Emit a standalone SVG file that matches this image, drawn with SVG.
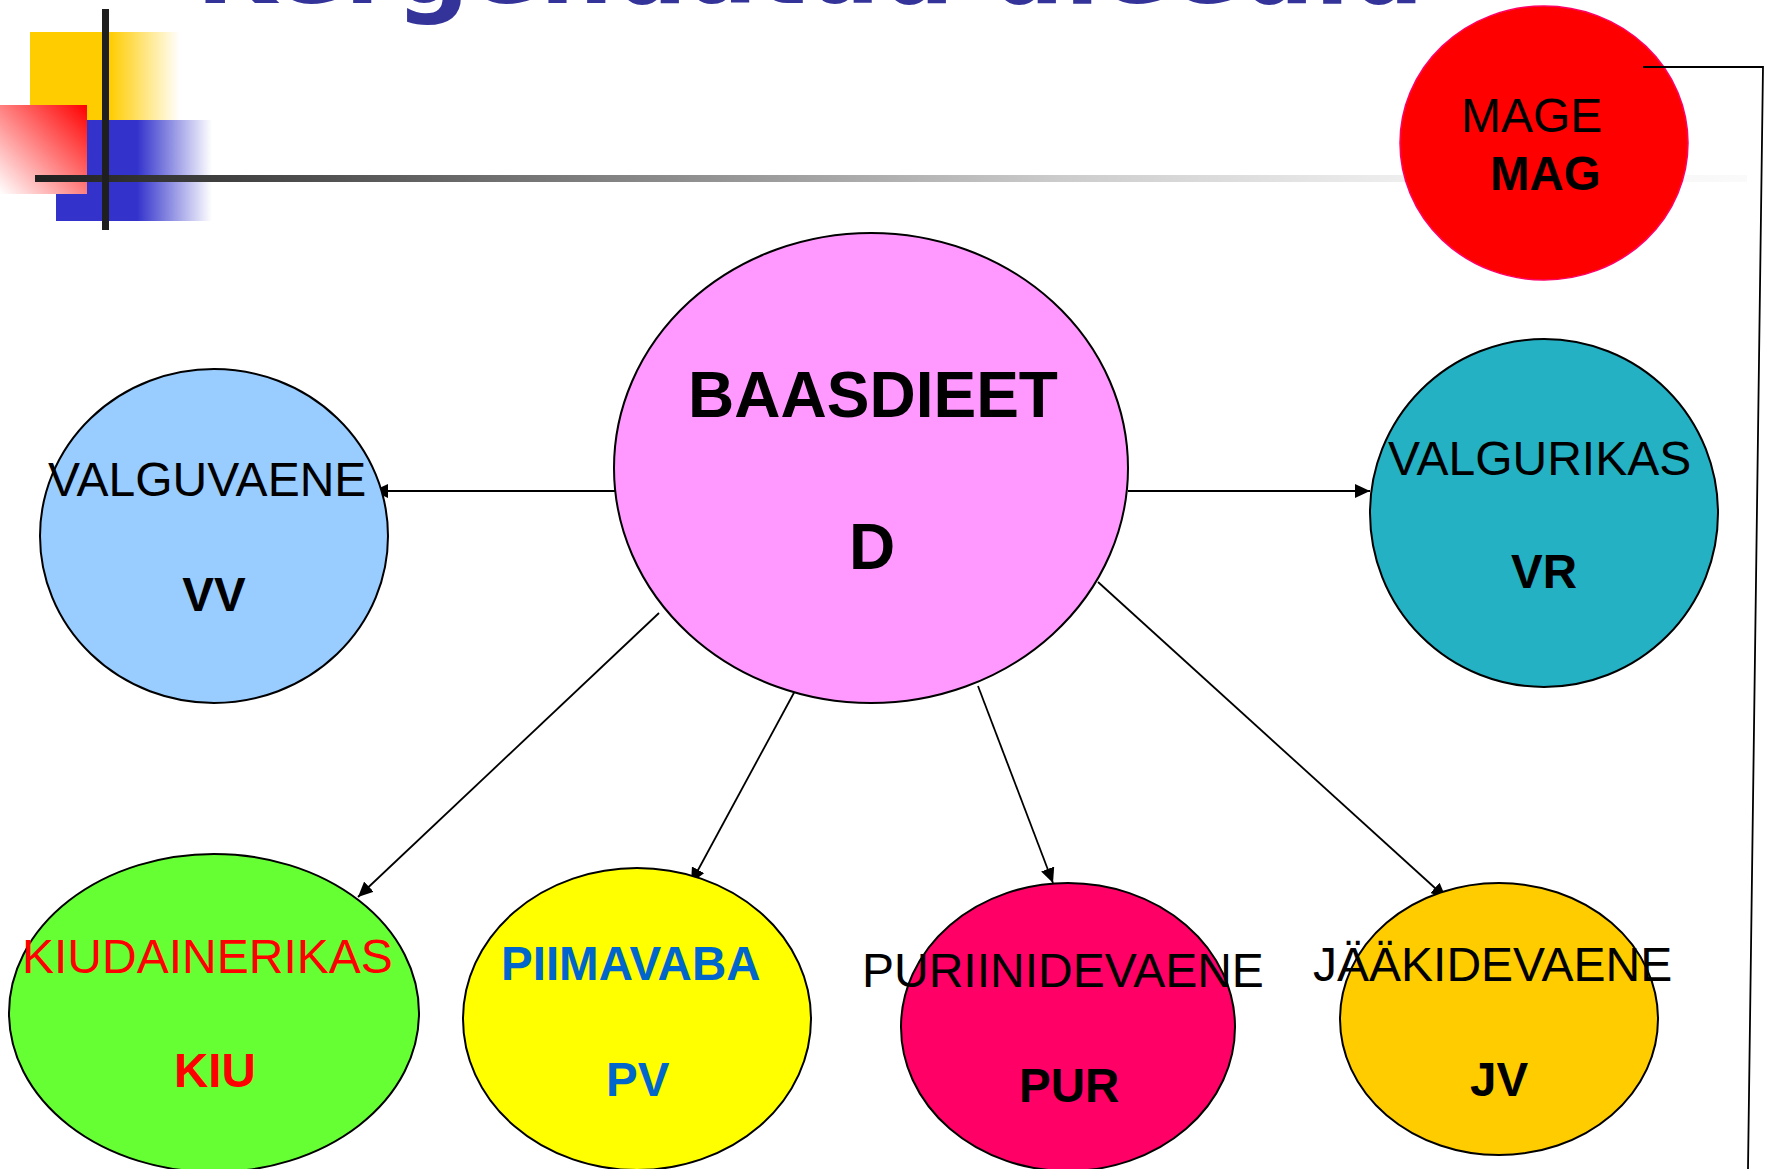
<svg xmlns="http://www.w3.org/2000/svg" width="1770" height="1169" viewBox="0 0 1770 1169">
<defs>
  <linearGradient id="gYellow" x1="0" y1="0" x2="1" y2="0">
    <stop offset="0" stop-color="#FFCC00"/>
    <stop offset="0.53" stop-color="#FFCC00"/>
    <stop offset="1" stop-color="#FFFFFF"/>
  </linearGradient>
  <linearGradient id="gBlue" x1="0" y1="0" x2="1" y2="0">
    <stop offset="0" stop-color="#3333CC"/>
    <stop offset="0.52" stop-color="#3333CC"/>
    <stop offset="1" stop-color="#FFFFFF"/>
  </linearGradient>
  <linearGradient id="gRed" x1="1" y1="0" x2="0" y2="1">
    <stop offset="0" stop-color="#FF0000"/>
    <stop offset="1" stop-color="#FFFFFF"/>
  </linearGradient>
  <linearGradient id="gBar" x1="0" y1="0" x2="1" y2="0">
    <stop offset="0" stop-color="#1f1f1f"/>
    <stop offset="0.27" stop-color="#707070"/>
    <stop offset="0.6" stop-color="#cccccc"/>
    <stop offset="0.8" stop-color="#eeeeee"/>
    <stop offset="1" stop-color="#fafafa"/>
  </linearGradient>
  <marker id="arr" markerUnits="userSpaceOnUse" markerWidth="16" markerHeight="14" refX="15" refY="7" orient="auto">
    <path d="M0,0 L15,7 L0,14 z" fill="#000"/>
  </marker>
</defs>
<style>
  .n { stroke: #000; stroke-width: 2; }
  .t { font-family: "Liberation Sans", Arial, sans-serif; fill: #000; font-size: 48px; }
  .b { font-weight: bold; font-size: 47.5px; }
  .c { stroke: #000; stroke-width: 1.8; fill: none; }
</style>
<rect width="1770" height="1169" fill="#fff"/>

<g id="decoration">
  <text x="196" y="3" font-family="'DejaVu Sans', Verdana, sans-serif" font-weight="bold" font-size="102" fill="#333399" textLength="1228" lengthAdjust="spacingAndGlyphs">Kergendatud dieedid</text>
  <rect x="30" y="32" width="150" height="88" fill="url(#gYellow)"/>
  <rect x="56" y="120" width="156" height="101" fill="url(#gBlue)"/>
  <rect x="0" y="105" width="87" height="89" fill="url(#gRed)"/>
  <rect x="35" y="175" width="1712" height="7" fill="url(#gBar)"/>
  <rect x="102" y="9" width="7" height="221" fill="#1f1f1f"/>
</g>

<g id="connectors">
  <line class="c" x1="615" y1="491" x2="373" y2="491" marker-end="url(#arr)"/>
  <line class="c" x1="1128" y1="491" x2="1370" y2="491" marker-end="url(#arr)"/>
  <line class="c" x1="659" y1="613" x2="358" y2="897" marker-end="url(#arr)"/>
  <line class="c" x1="796" y1="689" x2="691" y2="883" marker-end="url(#arr)"/>
  <line class="c" x1="978" y1="686" x2="1053" y2="883" marker-end="url(#arr)"/>
  <line class="c" x1="1098" y1="582" x2="1446" y2="898" marker-end="url(#arr)"/>
</g>

<g id="MAGE">
  <ellipse cx="1544" cy="143" rx="144" ry="137" fill="#FF0000" stroke="#FF0066" stroke-width="1.5"/>
  <text class="t" x="1461" y="132">MAGE</text>
  <text class="t b" x="1490" y="190">MAG</text>
</g>
<g id="mage-link">
  <polyline class="c" points="1643,67 1763,67 1748,1169"/>
</g>

<g id="BAASDIEET">
  <ellipse class="n" cx="871" cy="468" rx="257" ry="235" fill="#FF99FF"/>
  <text class="t b" x="873" y="417" style="font-size:64px" text-anchor="middle">BAASDIEET</text>
  <text class="t b" x="872" y="569" style="font-size:64px" text-anchor="middle">D</text>
</g>

<g id="VALGUVAENE">
  <ellipse class="n" cx="214" cy="536" rx="174" ry="167" fill="#99CCFF"/>
  <text class="t" x="48" y="496">VALGUVAENE</text>
  <text class="t b" x="214" y="611" text-anchor="middle">VV</text>
</g>

<g id="VALGURIKAS">
  <ellipse class="n" cx="1544" cy="513" rx="174" ry="174" fill="#23B1C3"/>
  <text class="t" x="1388" y="475">VALGURIKAS</text>
  <text class="t b" x="1544" y="588" text-anchor="middle">VR</text>
</g>

<g id="KIUDAINERIKAS">
  <ellipse class="n" cx="214" cy="1013" rx="205" ry="159" fill="#66FF33"/>
  <text class="t" x="22" y="973" style="fill:#FF0000">KIUDAINERIKAS</text>
  <text class="t b" x="174" y="1087" style="fill:#FF0000">KIU</text>
</g>

<g id="PIIMAVABA">
  <ellipse class="n" cx="637" cy="1019" rx="174" ry="151" fill="#FFFF00"/>
  <text class="t b" x="501" y="980" style="fill:#0066CC">PIIMAVABA</text>
  <text class="t b" x="606" y="1096" style="fill:#0066CC">PV</text>
</g>

<g id="PURIINIDEVAENE">
  <ellipse class="n" cx="1068" cy="1027" rx="167" ry="144" fill="#FF0066"/>
  <text class="t" x="862" y="987">PURIINIDEVAENE</text>
  <text class="t b" x="1019" y="1102">PUR</text>
</g>

<g id="JAAKIDEVAENE">
  <ellipse class="n" cx="1499" cy="1019" rx="159" ry="136" fill="#FFCC00"/>
  <text class="t" x="1313" y="981">JÄÄKIDEVAENE</text>
  <text class="t b" x="1470" y="1096">JV</text>
</g>
</svg>
